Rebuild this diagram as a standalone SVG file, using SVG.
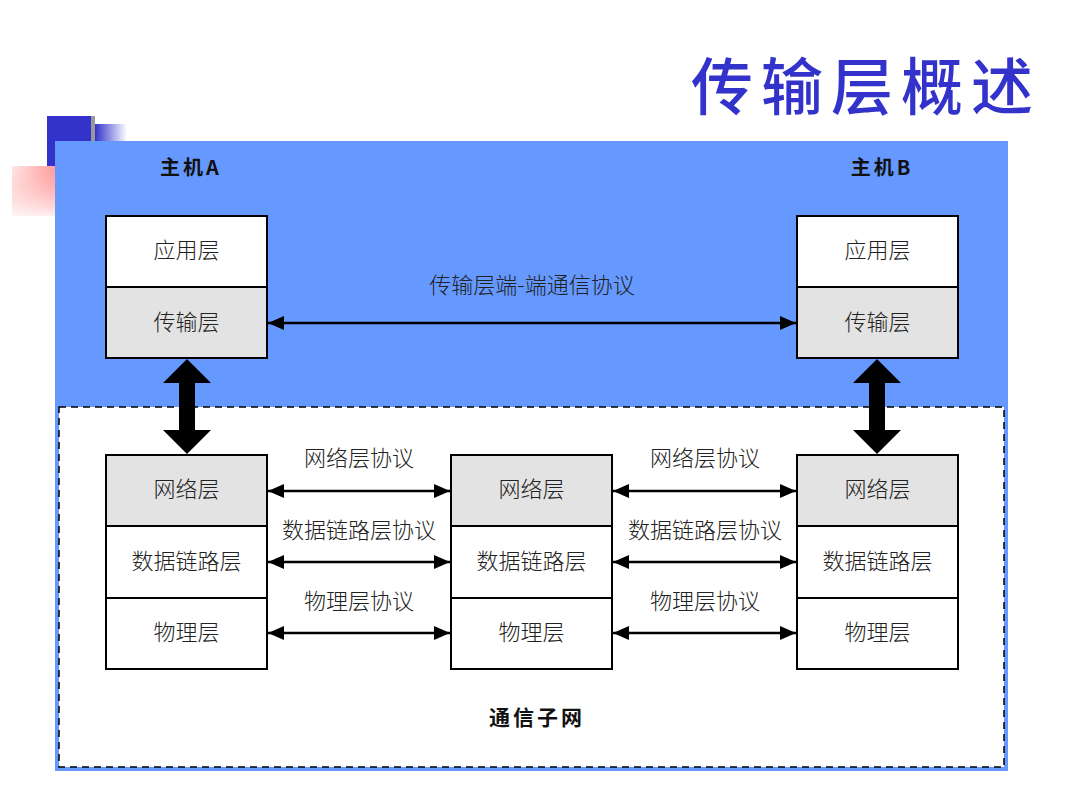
<svg xmlns="http://www.w3.org/2000/svg" width="1080" height="810" viewBox="0 0 1080 810">
<defs>
<linearGradient id="gBlue" x1="0" y1="0" x2="1" y2="0"><stop offset="0" stop-color="#3333cc"/><stop offset="1" stop-color="#3333cc" stop-opacity="0"/></linearGradient>
<linearGradient id="gRed" x1="0" y1="0" x2="1" y2="1"><stop offset="0" stop-color="#ff6666" stop-opacity="0.15"/><stop offset="0.6" stop-color="#ff7070" stop-opacity="0.8"/><stop offset="1" stop-color="#ff5555"/></linearGradient>
<linearGradient id="gRed2" x1="0" y1="0" x2="0" y2="1"><stop offset="0" stop-color="#ffffff" stop-opacity="0"/><stop offset="1" stop-color="#ffffff" stop-opacity="0.9"/></linearGradient>
<marker id="ah" viewBox="0 0 16 14" refX="16" refY="7" markerWidth="16" markerHeight="14" markerUnits="userSpaceOnUse" orient="auto-start-reverse"><path d="M0,0 L16,7 L0,14 Z" fill="#000"/></marker>
</defs>
<style>
.box{stroke:#000;stroke-width:2}
.w{fill:#fff}
.g{fill:#e3e3e3}
.t{font-family:"Noto Sans CJK SC","Liberation Sans",sans-serif;font-size:22px;font-weight:300;fill:#222;text-anchor:middle}
.b{font-family:"Noto Sans CJK SC","Liberation Sans",sans-serif;font-size:20px;font-weight:bold;fill:#111;text-anchor:middle;letter-spacing:3px}
.ln{stroke:#000;stroke-width:2.5;fill:none;marker-start:url(#ah);marker-end:url(#ah)}
</style>
<rect width="1080" height="810" fill="#fff"/>
<g id="decor">
<rect x="12" y="166" width="45" height="50" fill="url(#gRed)"/>
<rect x="12" y="166" width="45" height="50" fill="url(#gRed2)"/>
<rect x="47" y="116" width="45" height="50" fill="#3333cc"/>
<rect x="91" y="116" width="4" height="25" fill="#999"/>
<rect x="95" y="124" width="32" height="17" fill="url(#gBlue)"/>
</g>
<text id="title" x="866" y="110" font-family="'Noto Sans CJK SC',sans-serif" font-size="62" font-weight="500" fill="#3333cc" text-anchor="middle" letter-spacing="8">传输层概述</text>
<rect x="55" y="141" width="953" height="630" fill="#6699ff"/>
<rect x="59" y="407" width="945" height="360" fill="#fff" stroke="#000" stroke-width="1.5" stroke-dasharray="7,5"/>
<text class="b" x="191" y="175">主机A</text>
<text class="b" x="882" y="175">主机B</text>
<text class="b" x="537" y="725" style="font-size:21px">通信子网</text>
<g id="hostA">
<rect class="box w" x="106" y="216" width="161" height="71"/>
<rect class="box g" x="106" y="287" width="161" height="71"/>
<text class="t" x="186.5" y="258">应用层</text>
<text class="t" x="186.5" y="330">传输层</text>
</g>
<g id="hostB">
<rect class="box w" x="797" y="216" width="161" height="71"/>
<rect class="box g" x="797" y="287" width="161" height="71"/>
<text class="t" x="877.5" y="258">应用层</text>
<text class="t" x="877.5" y="330">传输层</text>
</g>
<g id="stackL">
<rect class="box g" x="106" y="455" width="161" height="71"/>
<rect class="box w" x="106" y="526" width="161" height="72"/>
<rect class="box w" x="106" y="598" width="161" height="71"/>
<text class="t" x="186.5" y="497">网络层</text>
<text class="t" x="186.5" y="569">数据链路层</text>
<text class="t" x="186.5" y="640">物理层</text>
</g>
<g id="stackM">
<rect class="box g" x="451" y="455" width="161" height="71"/>
<rect class="box w" x="451" y="526" width="161" height="72"/>
<rect class="box w" x="451" y="598" width="161" height="71"/>
<text class="t" x="531.5" y="497">网络层</text>
<text class="t" x="531.5" y="569">数据链路层</text>
<text class="t" x="531.5" y="640">物理层</text>
</g>
<g id="stackR">
<rect class="box g" x="797" y="455" width="161" height="71"/>
<rect class="box w" x="797" y="526" width="161" height="72"/>
<rect class="box w" x="797" y="598" width="161" height="71"/>
<text class="t" x="877.5" y="497">网络层</text>
<text class="t" x="877.5" y="569">数据链路层</text>
<text class="t" x="877.5" y="640">物理层</text>
</g>
<g id="connectors">
<path d="M187,359 L211,383 L195,383 L195,430 L211,430 L187,454 L163,430 L179,430 L179,383 L163,383 Z" fill="#000"/>
<path d="M877,359 L901,383 L885,383 L885,430 L901,430 L877,454 L853,430 L869,430 L869,383 L853,383 Z" fill="#000"/>
<line class="ln" x1="268" y1="323" x2="796" y2="323"/>
<line class="ln" x1="268" y1="491" x2="450" y2="491"/>
<line class="ln" x1="268" y1="562" x2="450" y2="562"/>
<line class="ln" x1="268" y1="633" x2="450" y2="633"/>
<line class="ln" x1="613" y1="491" x2="796" y2="491"/>
<line class="ln" x1="613" y1="562" x2="796" y2="562"/>
<line class="ln" x1="613" y1="633" x2="796" y2="633"/>
</g>
<g id="labels">
<text class="t" x="532" y="293">传输层端-端通信协议</text>
<text class="t" x="359" y="466">网络层协议</text>
<text class="t" x="359" y="538">数据链路层协议</text>
<text class="t" x="359" y="609">物理层协议</text>
<text class="t" x="705" y="466">网络层协议</text>
<text class="t" x="705" y="538">数据链路层协议</text>
<text class="t" x="705" y="609">物理层协议</text>
</g>
</svg>
